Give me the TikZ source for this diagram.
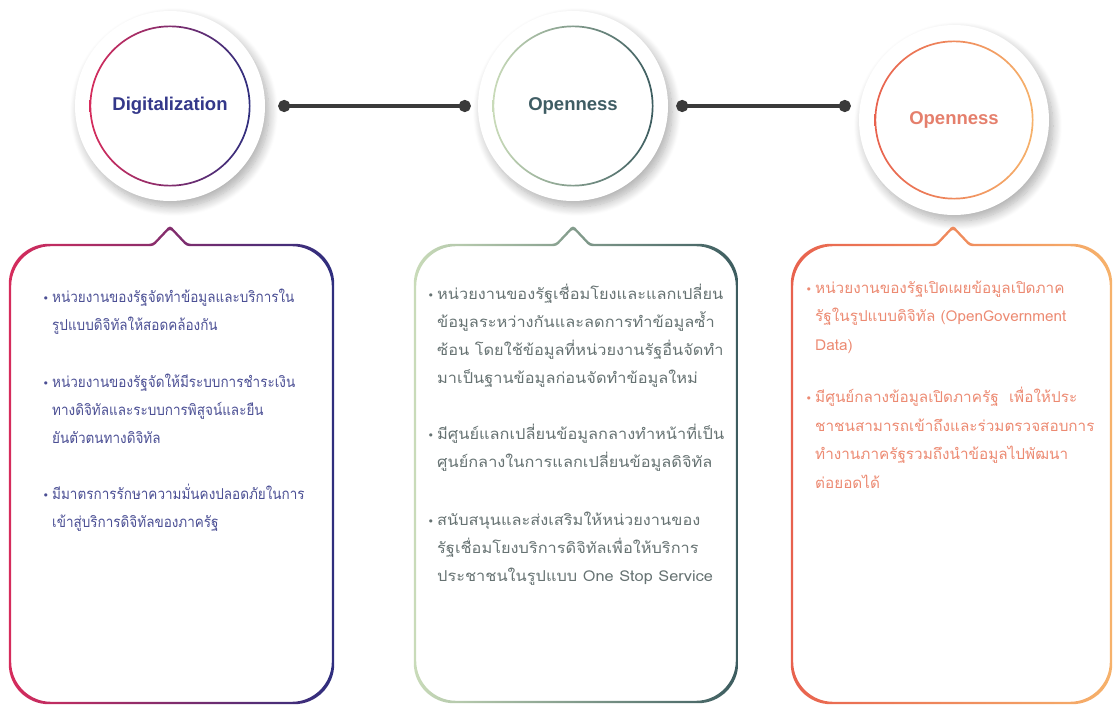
\documentclass[tikz,border=0pt]{standalone}
\usepackage{fontspec}
\setmainfont{Liberation Sans}
\newfontfamily\thaina[Script=Thai,FakeStretch=0.9]{Loma}
\newfontfamily\thaimid[Script=Thai,FakeStretch=1.09]{Loma}
\newfontfamily\thaiwd[Script=Thai,FakeStretch=1.02]{Loma}
\newfontfamily\dotfont{DejaVu Sans}
\usetikzlibrary{arrows.meta,shadows.blur}

\definecolor{digred}{HTML}{D62C5C}
\definecolor{dignavy}{HTML}{2E2E7E}
\definecolor{digtext}{HTML}{34388A}
\definecolor{digbody}{HTML}{4B4F94}
\definecolor{opnlight}{HTML}{C9DBB9}
\definecolor{opndark}{HTML}{3C5C5F}
\definecolor{opntext}{HTML}{3F5D64}
\definecolor{opnbody}{HTML}{667272}
\definecolor{opgred}{HTML}{E8624E}
\definecolor{opgorange}{HTML}{F6B26B}
\definecolor{opgtext}{HTML}{E57F6C}
\definecolor{opgbody}{HTML}{EC8A72}
\definecolor{linkgray}{HTML}{3A3A3A}

% speech box outline: left, right, top, bottom, notch x, offset
\tikzset{
  bubble/.style n args={6}{insert path={
    [rounded corners=3] ({#5},{#3-18-1.4*(#6)}) -- ({#5+17+0.4*(#6)},{#3-(#6)})
    [rounded corners=40] -- ({#2+(#6)},{#3-(#6)}) -- ({#2+(#6)},{#4+(#6)}) -- ({#1-(#6)},{#4+(#6)}) -- ({#1-(#6)},{#3-(#6)})
    [rounded corners=3] -- ({#5-17-0.4*(#6)},{#3-(#6)}) -- cycle}}
}
\newcommand\bul{\llap{{\dotfont\fontsize{11}{11}\selectfont•}\hspace{3pt}}}

\begin{document}
\begin{tikzpicture}[x=1pt,y=-1pt,
    hub/.style={circle,fill=white,minimum size=190pt,inner sep=0pt,
      blur shadow={shadow xshift=4pt,shadow yshift=-6pt,shadow blur radius=9pt,shadow blur steps=12,shadow opacity=32},
      font=\bfseries\fontsize{18.5}{22}\selectfont},
    link/.style={line width=4pt,draw=linkgray,{Circle[length=12pt]}-{Circle[length=12pt]}},
    para/.style={anchor=base west,align=left,inner sep=0pt}
  ]
  \useasboundingbox (0,0) rectangle (1114,706);

  % circles
  \node[hub,text=digtext] (dig) at (170,106) {Digitalization};
  \node[hub,text=opntext] (opn) at (573,106) {Openness};
  \node[hub,text=opgtext] (opg) at (954,120) {Openness};
  \shade[left color=digred,right color=dignavy,even odd rule] (dig.center) circle (80.5) (dig.center) circle (78.8);
  \shade[left color=opnlight,right color=opndark,even odd rule] (opn.center) circle (80.5) (opn.center) circle (78.8);
  \shade[left color=opgred,right color=opgorange,even odd rule] (opg.center) circle (79.5) (opg.center) circle (77.8);

  % links
  \draw[link,shorten <=13pt,shorten >=7pt] (dig.east) -- (opn.west);
  \draw[link,shorten <=8pt,shorten >=8pt] (opn.east) -- (opn.east -| opg.west);

  % boxes
  \shade[left color=digred,right color=dignavy,even odd rule,
    bubble={10}{333}{245}{703}{170}{1.2},bubble={10}{333}{245}{703}{170}{-1.2}];
  \shade[left color=opnlight,right color=opndark,even odd rule,
    bubble={415}{737}{245}{702}{573}{1.2},bubble={415}{737}{245}{702}{573}{-1.2}];
  \shade[left color=opgred,right color=opgorange,even odd rule,
    bubble={792}{1111}{245}{703}{953}{1.2},bubble={792}{1111}{245}{703}{953}{-1.2}];

  % texts
  \begin{scope}[every node/.append style={para,text=digbody,font=\thaina\fontsize{15}{28}\selectfont}]
    \node (d1) at (52,330) {\bul หน่วยงานของรัฐจัดทำข้อมูลและบริการใน\\รูปแบบดิจิทัลให้สอดคล้องกัน};
    \node (d2) at (52,443) {\bul หน่วยงานของรัฐจัดให้มีระบบการชำระเงิน\\ทางดิจิทัลและระบบการพิสูจน์และยืน\\ยันตัวตนทางดิจิทัล};
    \node (d3) at (52,527) {\bul มีมาตรการรักษาความมั่นคงปลอดภัยในการ\\เข้าสู่บริการดิจิทัลของภาครัฐ};
  \end{scope}
  \begin{scope}[every node/.append style={para,text=opnbody,font=\thaimid\fontsize{15}{28}\selectfont}]
    \node (o1) at (437,383) {\bul หน่วยงานของรัฐเชื่อมโยงและแลกเปลี่ยน\\ข้อมูลระหว่างกันและลดการทำข้อมูลซ้ำ\\ซ้อน โดยใช้ข้อมูลที่หน่วยงานรัฐอื่นจัดทำ\\มาเป็นฐานข้อมูลก่อนจัดทำข้อมูลใหม่};
    \node (o2) at (437,467) {\bul มีศูนย์แลกเปลี่ยนข้อมูลกลางทำหน้าที่เป็น\\ศูนย์กลางในการแลกเปลี่ยนข้อมูลดิจิทัล};
    \node (o3) at (437,581) {\bul สนับสนุนและส่งเสริมให้หน่วยงานของ\\รัฐเชื่อมโยงบริการดิจิทัลเพื่อให้บริการ\\ประชาชนในรูปแบบ One Stop Service};
  \end{scope}
  \begin{scope}[every node/.append style={para,text=opgbody,font=\thaiwd\fontsize{15}{28.5}\selectfont}]
    \node (g1) at (815,350) {\bul หน่วยงานของรัฐเปิดเผยข้อมูลเปิดภาค\\รัฐในรูปแบบดิจิทัล (OpenGovernment\\Data)};
    \node (g2) at (815,488) {\bul มีศูนย์กลางข้อมูลเปิดภาครัฐ\ \ เพื่อให้ประ\\ชาชนสามารถเข้าถึงและร่วมตรวจสอบการ\\ทำงานภาครัฐรวมถึงนำข้อมูลไปพัฒนา\\ต่อยอดได้};
  \end{scope}
\end{tikzpicture}
\end{document}
